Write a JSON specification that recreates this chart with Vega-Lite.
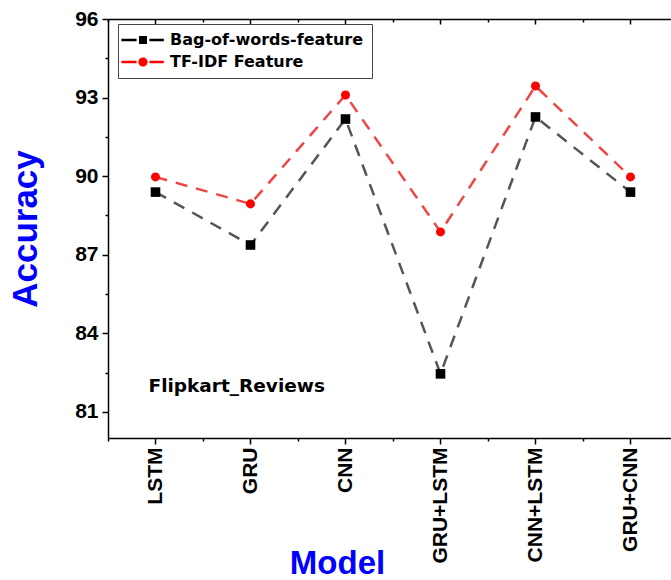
{
  "$schema": "https://vega.github.io/schema/vega-lite/v6.json",
  "width": 563,
  "height": 419,
  "autosize": {"type": "none"},
  "padding": {"left": 108, "top": 19, "right": 0, "bottom": 142},
  "background": "white",
  "config": {
    "view": {"stroke": null},
    "font": "Liberation Sans",
    "legend": {"symbolOpacity": 1},
    "axis": {
      "grid": false,
      "domainColor": "#000000",
      "domainWidth": 1.5,
      "tickColor": "#000000",
      "tickWidth": 1.5,
      "labelFont": "Liberation Sans",
      "labelFontWeight": "bold",
      "labelFontSize": 21,
      "labelColor": "#000000",
      "titleFont": "Liberation Sans",
      "titleFontWeight": "bold",
      "titleFontSize": 33,
      "titleColor": "#0000ff"
    }
  },
  "data": {
    "values": [
      {"model": "LSTM", "feature": "Bag-of-words-feature", "accuracy": 89.39},
      {"model": "GRU", "feature": "Bag-of-words-feature", "accuracy": 87.37},
      {"model": "CNN", "feature": "Bag-of-words-feature", "accuracy": 92.18},
      {"model": "GRU+LSTM", "feature": "Bag-of-words-feature", "accuracy": 82.45},
      {"model": "CNN+LSTM", "feature": "Bag-of-words-feature", "accuracy": 92.26},
      {"model": "GRU+CNN", "feature": "Bag-of-words-feature", "accuracy": 89.39},
      {"model": "LSTM", "feature": "TF-IDF Feature", "accuracy": 89.97},
      {"model": "GRU", "feature": "TF-IDF Feature", "accuracy": 88.94},
      {"model": "CNN", "feature": "TF-IDF Feature", "accuracy": 93.10},
      {"model": "GRU+LSTM", "feature": "TF-IDF Feature", "accuracy": 87.87},
      {"model": "CNN+LSTM", "feature": "TF-IDF Feature", "accuracy": 93.44},
      {"model": "GRU+CNN", "feature": "TF-IDF Feature", "accuracy": 89.97}
    ]
  },
  "resolve": {"axis": {"x": "independent", "y": "independent"}},
  "layer": [
    {
      "transform": [{"filter": "datum.feature === 'Bag-of-words-feature'"}],
      "mark": {"type": "line", "strokeDash": [12, 9], "strokeWidth": 2.5, "stroke": "#555555"},
      "encoding": {
        "x": {
          "field": "model", "type": "nominal",
          "sort": ["LSTM", "GRU", "CNN", "GRU+LSTM", "CNN+LSTM", "GRU+CNN"],
          "scale": {"type": "band", "range": [0, 570], "paddingInner": 0, "paddingOuter": 0},
          "axis": {
            "orient": "bottom", "title": "Model", "labelAngle": -90, "tickSize": 6,
            "labelPadding": 3, "bandPosition": 0.5,
            "titleX": 229, "titleY": 135, "titleAlign": "center", "titleBaseline": "alphabetic"
          }
        },
        "y": {
          "field": "accuracy", "type": "quantitative",
          "scale": {"domain": [80, 96], "nice": false, "zero": false},
          "axis": {
            "orient": "left", "title": "Accuracy", "values": [81, 84, 87, 90, 93, 96],
            "tickSize": 6, "labelPadding": 4, "titlePadding": 31, "titleFontSize": 35
          }
        }
      }
    },
    {
      "transform": [{"filter": "datum.feature === 'TF-IDF Feature'"}],
      "mark": {"type": "line", "strokeDash": [12, 9], "strokeWidth": 2.5, "stroke": "#f04545"},
      "encoding": {
        "x": {
          "field": "model", "type": "nominal",
          "sort": ["LSTM", "GRU", "CNN", "GRU+LSTM", "CNN+LSTM", "GRU+CNN"],
          "axis": null
        },
        "y": {"field": "accuracy", "type": "quantitative", "axis": null}
      }
    },
    {
      "transform": [{"filter": "datum.feature === 'Bag-of-words-feature'"}],
      "mark": {"type": "point", "filled": true, "opacity": 1, "size": 92, "shape": "square", "fill": "#000000"},
      "encoding": {
        "x": {
          "field": "model", "type": "nominal",
          "sort": ["LSTM", "GRU", "CNN", "GRU+LSTM", "CNN+LSTM", "GRU+CNN"],
          "axis": {
            "orient": "bottom", "title": null, "labels": false, "domain": false,
            "tickSize": 3, "bandPosition": 0
          }
        },
        "y": {
          "field": "accuracy", "type": "quantitative",
          "axis": {
            "orient": "left", "title": null, "labels": false, "domain": false,
            "values": [82.5, 85.5, 88.5, 91.5, 94.5], "tickSize": 3
          }
        }
      }
    },
    {
      "transform": [{"filter": "datum.feature === 'TF-IDF Feature'"}],
      "mark": {"type": "point", "filled": true, "opacity": 1, "size": 82, "shape": "circle", "fill": "#ff0000"},
      "encoding": {
        "x": {
          "field": "model", "type": "nominal",
          "sort": ["LSTM", "GRU", "CNN", "GRU+LSTM", "CNN+LSTM", "GRU+CNN"],
          "axis": {
            "orient": "top", "title": null, "labels": false, "domain": true,
            "tickSize": -5, "bandPosition": 0.5
          }
        },
        "y": {"field": "accuracy", "type": "quantitative", "axis": null}
      }
    },
    {
      "mark": {"type": "point", "filled": true, "opacity": 0},
      "encoding": {
        "x": {
          "field": "model", "type": "nominal",
          "sort": ["LSTM", "GRU", "CNN", "GRU+LSTM", "CNN+LSTM", "GRU+CNN"],
          "axis": {
            "orient": "top", "title": null, "labels": false, "domain": false,
            "tickSize": -3, "bandPosition": 0
          }
        },
        "y": {"field": "accuracy", "type": "quantitative", "axis": null},
        "fill": {
          "field": "feature", "type": "nominal",
          "scale": {"domain": ["Bag-of-words-feature", "TF-IDF Feature"], "range": ["#000000", "#ff0000"]},
          "legend": {
            "orient": "none", "legendX": 10, "legendY": 5, "title": null,
            "strokeColor": "#444444", "fillColor": "#ffffff", "padding": 8,
            "labelFont": "DejaVu Sans", "labelFontSize": 16, "labelFontWeight": "bold", "labelColor": "#000000",
            "labelLimit": 0,
            "symbolSize": 64, "symbolStrokeWidth": 0, "symbolOpacity": 1,
            "rowPadding": 6, "symbolOffset": 9, "labelOffset": 19
          }
        },
        "shape": {
          "field": "feature", "type": "nominal",
          "scale": {
            "domain": ["Bag-of-words-feature", "TF-IDF Feature"],
            "range": [
              "M-5.4,-0.3H-1.6V0.3H-5.4Z M-1,-1H1V1H-1Z M1.6,-0.3H5.2V0.3H1.6Z",
              "M-5.4,-0.3H-1.6V0.3H-5.4Z M-1.15,0A1.15,1.15 0 1,1 1.15,0A1.15,1.15 0 1,1 -1.15,0Z M1.6,-0.3H5.2V0.3H1.6Z"
            ]
          },
          "legend": {
            "orient": "none", "legendX": 10, "legendY": 5, "title": null,
            "strokeColor": "#444444", "fillColor": "#ffffff", "padding": 8,
            "labelFont": "DejaVu Sans", "labelFontSize": 16, "labelFontWeight": "bold", "labelColor": "#000000",
            "labelLimit": 0,
            "symbolSize": 64, "symbolStrokeWidth": 0, "symbolOpacity": 1,
            "rowPadding": 6, "symbolOffset": 9, "labelOffset": 19
          }
        }
      }
    },
    {
      "data": {"values": [{"label": "Flipkart_Reviews"}]},
      "mark": {
        "type": "text", "align": "left", "baseline": "middle", "dx": -7,
        "font": "DejaVu Sans", "fontSize": 18.5, "fontWeight": "bold", "color": "#000000"
      },
      "encoding": {
        "text": {"field": "label"},
        "x": {"datum": "LSTM", "type": "nominal", "axis": null},
        "y": {"datum": 82, "type": "quantitative", "axis": null}
      }
    }
  ]
}
